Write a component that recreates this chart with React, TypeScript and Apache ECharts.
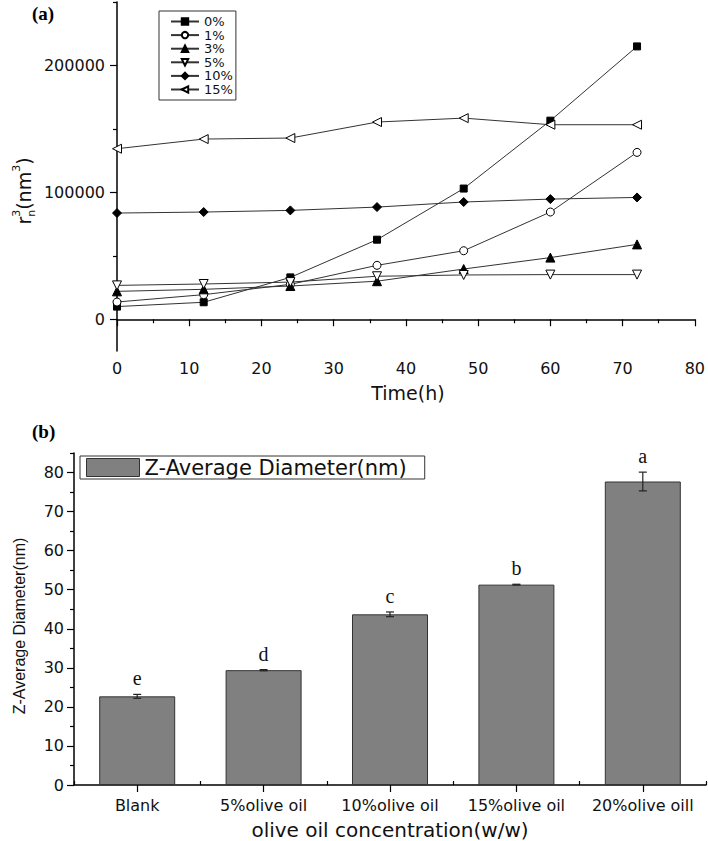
import React, { useEffect, useRef } from 'react';
import * as echarts from 'echarts';

// ---------- Panel (a) data ----------
const timeHours = [0, 12, 24, 36, 48, 60, 72];
const seriesNames = ['0%', '1%', '3%', '5%', '10%', '15%'];
const r3_0 = [10000, 13400, 33000, 62700, 103000, 156500, 215000];
const r3_1 = [13600, 19400, 27500, 42500, 54000, 84500, 131500];
const r3_3 = [22000, 23600, 26200, 30000, 39600, 48600, 59000];
const r3_5 = [26700, 27800, 29300, 33900, 34900, 35200, 35200];
const r3_10 = [83700, 84500, 85800, 88400, 92400, 94700, 96000];
const r3_15 = [134400, 142000, 142800, 155400, 158500, 153300, 153300];
const r3Values = [r3_0, r3_1, r3_3, r3_5, r3_10, r3_15];
const yTickLabelsA = [0, 100000, 200000];
const yMinorTicksA = [50000, 150000, 250000];

// ---------- Panel (b) data ----------
const oilCategories = ['Blank', '5%olive oil', '10%olive oil', '15%olive oil', '20%olive oill'];
const zDiameter = [22.7, 29.4, 43.7, 51.3, 77.7];
const zError = [0.5, 0.15, 0.6, 0.1, 2.4];
const sigLetters = ['e', 'd', 'c', 'b', 'a'];
const yTickLabelsB = [0, 10, 20, 30, 40, 50, 60, 70, 80];
const yMinorTicksB = [5, 15, 25, 35, 45, 55, 65, 75, 85];

const FONT = 'DejaVu Sans';

const markerStyles = [
  { symbol: 'rect', rotate: 0, fill: '#000', size: 7 },
  { symbol: 'circle', rotate: 0, fill: '#fff', size: 8 },
  { symbol: 'triangle', rotate: 0, fill: '#000', size: 9 },
  { symbol: 'triangle', rotate: 180, fill: '#fff', size: 9 },
  { symbol: 'diamond', rotate: 0, fill: '#000', size: 9 },
  { symbol: 'triangle', rotate: 90, fill: '#fff', size: 9 },
];

export default function App() {
  const ref = useRef<HTMLDivElement>(null);
  useEffect(() => {
    if (!ref.current) return;
    const chart = echarts.init(ref.current, null, { renderer: 'svg' });

    const lineSeries = seriesNames.map((name, i) => ({
      name,
      type: 'line',
      xAxisIndex: 0,
      yAxisIndex: 0,
      data: timeHours.map((t, j) => [t, r3Values[i][j]]),
      symbol: markerStyles[i].symbol,
      symbolRotate: markerStyles[i].rotate,
      symbolSize: markerStyles[i].size,
      showAllSymbol: true,
      lineStyle: { color: '#333', width: 1 },
      itemStyle: { color: markerStyles[i].fill, borderColor: '#000', borderWidth: 1 },
      z: 3,
    }));

    const axisLine = { show: true, lineStyle: { color: '#000', width: 1.5 } };

    const option: any = {
      animation: false,
      legend: [
        {
          data: seriesNames,
          orient: 'vertical',
          left: 159,
          top: 11,
          itemWidth: 28,
          itemHeight: 8,
          itemGap: 0.6,
          padding: [4, 3, 4, 11],
          borderColor: '#333',
          borderWidth: 1,
          textStyle: { fontFamily: FONT, fontSize: 13, color: '#111', lineHeight: 12 },
        },
        {
          data: ['Z-Average Diameter(nm)'],
          left: 80,
          top: 456,
          icon: 'rect',
          itemWidth: 53,
          itemHeight: 18,
          padding: [1, 18, 1, 6],
          borderColor: '#333',
          borderWidth: 1,
          itemStyle: { color: '#808080', borderColor: '#333', borderWidth: 1 },
          textStyle: { fontFamily: FONT, fontSize: 21, color: '#111', lineHeight: 20 },
        },
      ],
      grid: [
        { left: 117, right: 12, top: 2, height: 349 },
        { left: 74, right: 2, top: 453, height: 332 },
      ],
      xAxis: [
        {
          type: 'value',
          gridIndex: 0,
          min: 0,
          max: 80,
          interval: 10,
          axisLine,
          axisTick: { show: true, length: 7, lineStyle: { color: '#000', width: 1.2 } },
          minorTick: { show: true, splitNumber: 2, length: 4, lineStyle: { color: '#000', width: 1.2 } },
          splitLine: { show: false },
          axisLabel: { color: '#111', fontFamily: FONT, fontSize: 16, margin: 9 },
        },
        {
          type: 'category',
          gridIndex: 1,
          data: oilCategories,
          boundaryGap: true,
          axisLine,
          axisTick: { show: true, alignWithLabel: true, length: 7, lineStyle: { color: '#000', width: 1.2 } },
          axisLabel: { color: '#111', fontFamily: FONT, fontSize: 16, margin: 12, interval: 0 },
          splitLine: { show: false },
        },
        {
          type: 'category',
          gridIndex: 1,
          data: oilCategories,
          boundaryGap: true,
          axisLine: { show: false },
          axisTick: { show: true, alignWithLabel: false, length: 4, lineStyle: { color: '#000', width: 1.2 } },
          axisLabel: { show: false },
          splitLine: { show: false },
        },
      ],
      yAxis: [
        {
          type: 'value',
          gridIndex: 0,
          min: -25000,
          max: 250000,
          axisLine,
          axisTick: { show: true, length: 7, customValues: yTickLabelsA, lineStyle: { color: '#000', width: 1.2 } },
          axisLabel: {
            customValues: yTickLabelsA,
            color: '#111',
            fontFamily: FONT,
            fontSize: 16,
            margin: 12,
            formatter: (v: number) => String(v),
          },
          splitLine: { show: false },
        },
        {
          type: 'value',
          gridIndex: 0,
          min: -25000,
          max: 250000,
          position: 'left',
          axisLine: { show: false },
          axisTick: { show: true, length: 4, customValues: yMinorTicksA, lineStyle: { color: '#000', width: 1.2 } },
          axisLabel: { show: false, customValues: yMinorTicksA },
          splitLine: { show: false },
        },
        {
          type: 'value',
          gridIndex: 1,
          min: 0,
          max: 85,
          axisLine,
          axisTick: { show: true, length: 7, customValues: yTickLabelsB, lineStyle: { color: '#000', width: 1.2 } },
          axisLabel: {
            customValues: yTickLabelsB,
            color: '#111',
            fontFamily: FONT,
            fontSize: 16,
            margin: 10,
          },
          splitLine: { show: false },
        },
        {
          type: 'value',
          gridIndex: 1,
          min: 0,
          max: 85,
          position: 'left',
          axisLine: { show: false },
          axisTick: { show: true, length: 4, customValues: yMinorTicksB, lineStyle: { color: '#000', width: 1.2 } },
          axisLabel: { show: false, customValues: yMinorTicksB },
          splitLine: { show: false },
        },
      ],
      series: [
        ...lineSeries,
        {
          name: 'Z-Average Diameter(nm)',
          type: 'bar',
          xAxisIndex: 1,
          yAxisIndex: 2,
          data: zDiameter,
          barWidth: 76,
          itemStyle: { color: '#808080', borderColor: '#333', borderWidth: 1 },
        },
        {
          type: 'custom',
          xAxisIndex: 1,
          yAxisIndex: 2,
          data: zDiameter.map((v, i) => [i, v, zError[i]]),
          z: 5,
          renderItem: (params: any, api: any) => {
            const idx = api.value(0);
            const v = api.value(1);
            const e = api.value(2);
            const top = api.coord([idx, v + e]);
            const bot = api.coord([idx, v - e]);
            const x = top[0];
            const cap = 4;
            const st = { stroke: '#222', lineWidth: 1.2 };
            return {
              type: 'group',
              children: [
                { type: 'line', shape: { x1: x, y1: top[1], x2: x, y2: bot[1] }, style: st },
                { type: 'line', shape: { x1: x - cap, y1: top[1], x2: x + cap, y2: top[1] }, style: st },
                { type: 'line', shape: { x1: x - cap, y1: bot[1], x2: x + cap, y2: bot[1] }, style: st },
                {
                  type: 'text',
                  x: x,
                  y: top[1] - 16,
                  style: {
                    text: sigLetters[params.dataIndex],
                    fontFamily: 'Liberation Serif',
                    fontSize: 20,
                    fill: '#111',
                    align: 'center',
                    verticalAlign: 'middle',
                  },
                },
              ],
            };
          },
        },
      ],
      graphic: [
        {
          type: 'text',
          left: 32,
          top: 4,
          style: { text: '(a)', fontFamily: 'Liberation Serif', fontWeight: 'bold', fontSize: 19, fill: '#000' },
        },
        {
          type: 'text',
          left: 32,
          top: 422,
          style: { text: '(b)', fontFamily: 'Liberation Serif', fontWeight: 'bold', fontSize: 19, fill: '#000' },
        },
        {
          type: 'text',
          x: 408,
          y: 393,
          style: { text: 'Time(h)', fontFamily: FONT, fontSize: 19, fill: '#111', align: 'center', verticalAlign: 'middle' },
        },
        {
          type: 'text',
          x: 390,
          y: 830,
          style: {
            text: 'olive oil concentration(w/w)',
            fontFamily: FONT,
            fontSize: 20,
            fill: '#111',
            align: 'center',
            verticalAlign: 'middle',
          },
        },
        {
          type: 'text',
          x: 19,
          y: 626,
          rotation: Math.PI / 2,
          style: {
            text: 'Z-Average Diameter(nm)',
            fontFamily: 'Liberation Sans',
            fontSize: 16,
            fill: '#111',
            align: 'center',
            verticalAlign: 'middle',
          },
        },
        {
          type: 'text',
          x: 24,
          y: 191,
          rotation: Math.PI / 2,
          style: {
            text: '{m|r}{sub|n}{sup|3}{m|(nm}{sup|3}{m|)}',
            align: 'center',
            verticalAlign: 'middle',
            fill: '#111',
            rich: {
              m: { fontFamily: FONT, fontSize: 19, lineHeight: 26, verticalAlign: 'middle', fill: '#111' },
              sup: { fontFamily: FONT, fontSize: 11, lineHeight: 26, verticalAlign: 'top', fill: '#111' },
              sub: { fontFamily: FONT, fontSize: 11, lineHeight: 26, verticalAlign: 'bottom', fill: '#111', padding: [0, -7, 0, 0] },
            },
          },
        },
      ],
    };

    chart.setOption(option);
    return () => chart.dispose();
  }, []);

  return (
    <div
      ref={ref}
      style={{ position: 'absolute', left: 0, top: 0, width: 708, height: 841, background: '#fff' }}
    />
  );
}
